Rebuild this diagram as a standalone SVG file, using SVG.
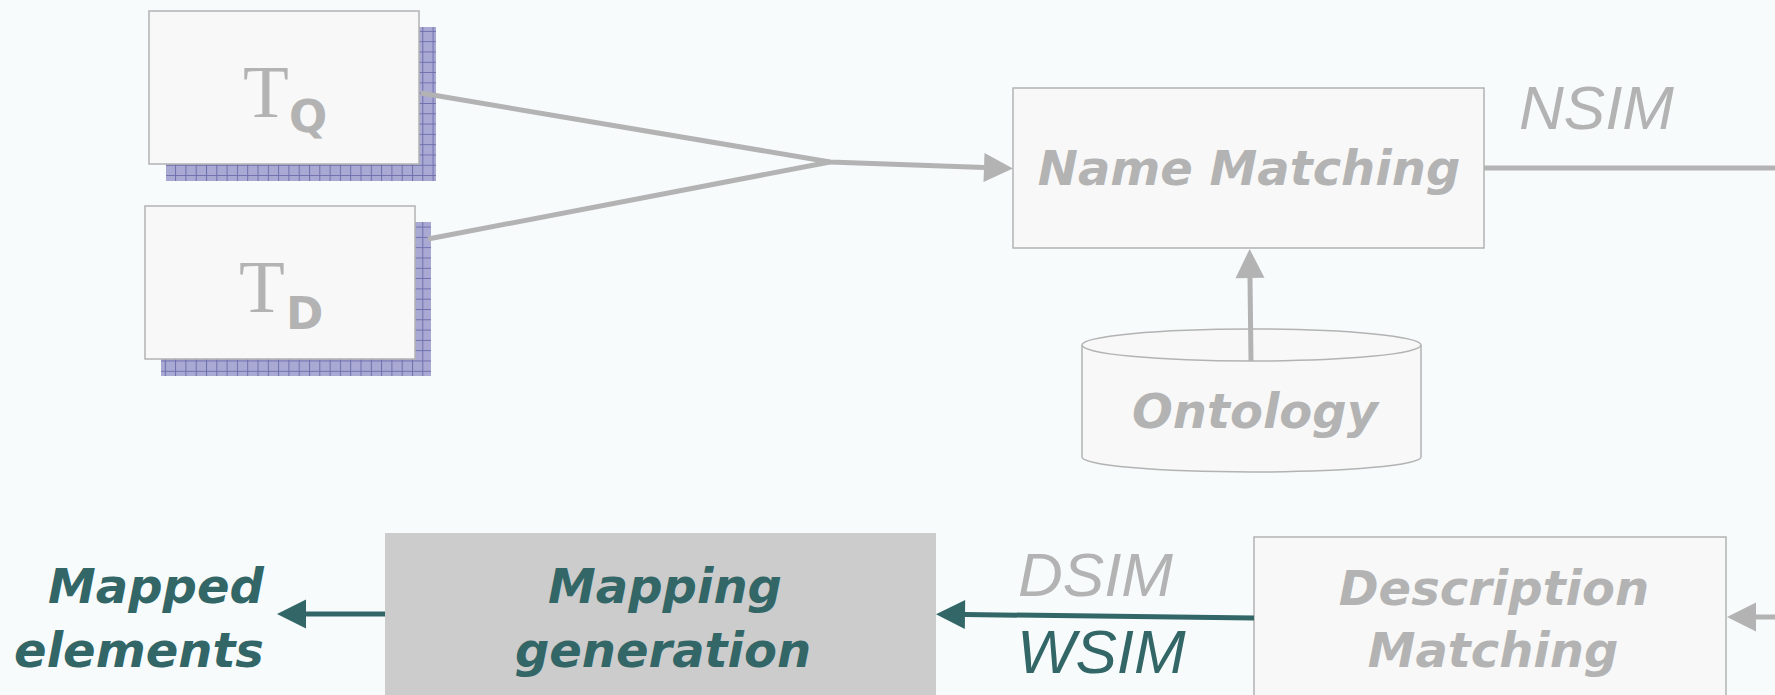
<svg xmlns="http://www.w3.org/2000/svg" width="1775" height="695" viewBox="0 0 1775 695">
  <style>
    .box { fill: #f8f8f8; stroke: #b3b3b3; stroke-width: 1.5; }
    .shadow { fill: url(#grid); }
    .label { font-family: "DejaVu Sans", Verdana, sans-serif; font-weight: bold; font-style: italic; font-size: 48px; text-anchor: middle; }
    .grey { fill: #b3b3b3; }
    .teal { fill: #336666; }
    .sim { font-family: "Liberation Sans", Arial, sans-serif; font-style: italic; font-size: 62px; }
    .tmain { font-family: "Liberation Serif", "Times New Roman", serif; font-size: 75px; fill: #b3b3b3; }
    .tsub { font-family: "DejaVu Sans", Verdana, sans-serif; font-weight: bold; font-size: 45px; fill: #b3b3b3; }
    .conn { fill: none; stroke-width: 5; }
    .conn.g { stroke: #b3b3b3; }
    .conn.t { stroke: #336666; }
  </style>
  <defs>
    <pattern id="grid" width="10.3" height="10.3" patternUnits="userSpaceOnUse">
      <rect width="10.3" height="10.3" fill="#a9a9d4"/>
      <path d="M0,0.5 H10.3 M0.5,0 V10.3" stroke="#6f6fac" stroke-width="1"/>
    </pattern>
    <marker id="headGrey" markerUnits="userSpaceOnUse" markerWidth="30" markerHeight="30" refX="0" refY="14.5" orient="auto" overflow="visible">
      <path d="M0,0 L29,14.5 L0,29 z" fill="#b3b3b3"/>
    </marker>
    <marker id="headTeal" markerUnits="userSpaceOnUse" markerWidth="30" markerHeight="30" refX="0" refY="14.5" orient="auto" overflow="visible">
      <path d="M0,0 L29,14.5 L0,29 z" fill="#336666"/>
    </marker>
  </defs>

  <rect width="1775" height="695" fill="#f7fbfc"/>

  <!-- input tables -->
  <g id="node-tq">
    <rect class="shadow" x="166" y="27" width="270" height="154"/>
    <rect class="box" x="149" y="11" width="270" height="153"/>
    <text class="tmain" x="243" y="117">T</text>
    <text class="tsub" x="289" y="132">Q</text>
  </g>
  <g id="node-td">
    <rect class="shadow" x="161" y="222" width="270" height="154"/>
    <rect class="box" x="145" y="206" width="270" height="153"/>
    <text class="tmain" x="239" y="312">T</text>
    <text class="tsub" x="286" y="329">D</text>
  </g>

  <!-- matching stages -->
  <g id="node-name-matching">
    <rect class="box" x="1013" y="88" width="471" height="160"/>
    <text class="label grey" x="1249" y="185">Name Matching</text>
  </g>

  <g id="node-ontology">
    <path class="box" d="M1082,345 V457 A169.5,15 0 0 0 1421,457 V345"/>
    <ellipse class="box" cx="1251.5" cy="345" rx="169.5" ry="16"/>
    <text class="label grey" x="1255" y="428">Ontology</text>
  </g>

  <g id="node-description-matching">
    <rect class="box" x="1254" y="537" width="472" height="170"/>
    <text class="label grey" x="1494" y="605">Description</text>
    <text class="label grey" x="1493" y="667">Matching</text>
  </g>

  <g id="node-mapping-generation">
    <rect x="385" y="533" width="551" height="170" fill="#cccccc"/>
    <text class="label teal" x="665" y="603">Mapping</text>
    <text class="label teal" x="663" y="667">generation</text>
  </g>

  <g id="node-mapped-elements">
    <text class="label teal" x="156" y="603">Mapped</text>
    <text class="label teal" x="139" y="667">elements</text>
  </g>

  <!-- connectors -->
  <g id="connectors">
    <polyline class="conn g" points="421,93 830,162 984,167.5" marker-end="url(#headGrey)"/>
    <polyline class="conn g" points="428,239 830,162"/>
    <line class="conn g" x1="1251" y1="361" x2="1250" y2="278" marker-end="url(#headGrey)"/>
    <line class="conn g" x1="1484" y1="168" x2="1775" y2="168"/>
    <line class="conn g" x1="1775" y1="617" x2="1756" y2="617" marker-end="url(#headGrey)"/>
    <line class="conn t" x1="1254" y1="618" x2="965" y2="614.5" marker-end="url(#headTeal)"/>
    <line class="conn t" x1="385" y1="614" x2="306" y2="614" marker-end="url(#headTeal)"/>
  </g>

  <!-- similarity labels -->
  <g id="labels">
    <text class="sim grey" x="1519" y="129" font-size="63">NSIM</text>
    <text class="sim grey" x="1018" y="596">DSIM</text>
    <text class="sim teal" x="1017" y="673">WSIM</text>
  </g>
</svg>
